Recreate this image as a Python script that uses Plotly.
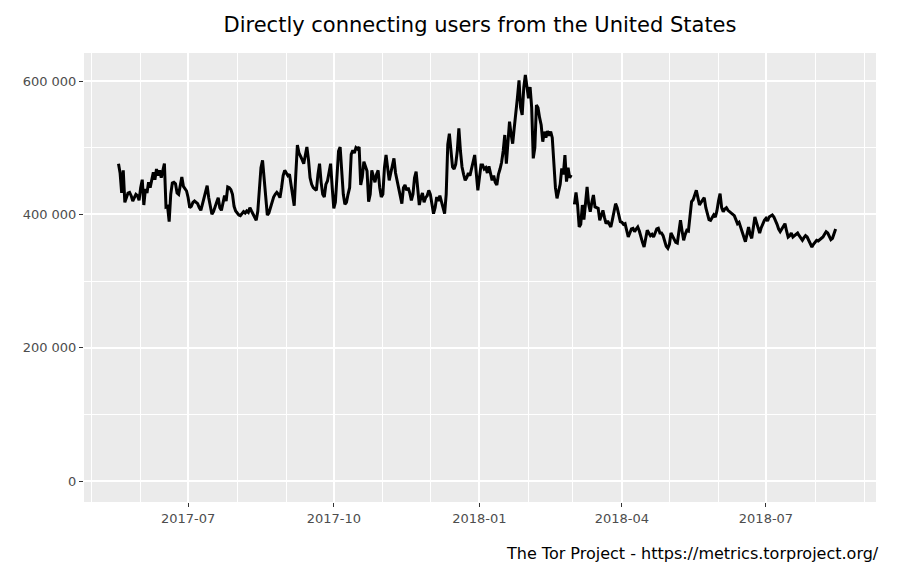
import pandas as pd
import plotly.graph_objects as go

# Daily directly connecting users (thousands).
# Each list starts at the given first date; None marks a missing day.
may_2017 = [476, 462, 432, 466, 418, 425, 432, 433, 428, 420, 425, 430, 428, 421]
jun_2017 = [440, 452, 414, 438, 432, 448, 440, 455, 463, 452, 468, 458, 466, 455, 468,
            476, 411, 412, 389, 430, 447, 448, 446, 432, 430, 445, 456, 442, 438, 435]
jul_2017 = [425, 410, 412, 418, 420, 418, 416, 410, 406, 415, 425, 432, 443, 425, 410, 400,
            404, 410, 418, 425, 410, 406, 418, 428, 420, 441, 440, 437, 430, 412, 405]
aug_2017 = [402, 399, 398, 402, 404, 402, 405, 403, 410, 405, 400, 395, 391, 405, 440, 470,
            481, 450, 420, 399, 402, 410, 416, 426, 430, 433, 430, 425, 440, 458, 466]
sep_2017 = [462, 458, 460, 445, 428, 413, 460, 504, 492, 488, 482, 476, 490, 501, 482,
            455, 445, 440, 438, 436, 460, 476, 448, 430, 426, 445, 450, 462, 476, 440]
oct_2017 = [409, 418, 460, 495, 501, 470, 430, 415, 418, 430, 440, 490, 496, 492, 500, 498,
            501, 444, 456, 479, 470, 465, 419, 430, 466, 455, 448, 460, 466, 440, 426]
nov_2017 = [430, 470, 489, 470, 451, 462, 475, 484, 462, 450, 440, 428, 416, 440, 444,
            436, 440, 432, 421, 430, 455, 464, 435, 414, 425, 432, 418, 425, 428, 436]
dec_2017 = [430, 415, 401, 410, 426, 420, 428, 419, 410, 401, 430, 505, 521, 490, 471, 468,
            475, 495, 529, 495, 471, 460, 451, 455, 462, 458, 468, 480, 489, 462, 436]
jan_2018 = [455, 474, 474, 468, 470, 462, 472, 460, 451, 458, 448, 444, 460, 468, 478, 495,
            519, 476, 510, 539, 520, 506, 530, 550, 575, 601, 560, 549, 590, 609, 590]
feb_2018 = [574, 591, 560, 484, 500, 564, 560, 545, 534, 509, 524, 515, 525, 518,
            524, 515, 470, 440, 424, 435, 445, 469, 460, 489, 449, 470, 455, 459]
mar_2018 = [None, 415, 433, 414, 381, 385, 414, 392, 420, 441, 415, 404, 418, 429, 411, 410,
            409, 391, 398, 406, 395, 386, 390, 385, 381, 392, 405, 416, 410, 398, 389]
apr_2018 = [388, 385, 386, 375, 366, 372, 378, 379, 374, 378, 381, 375, 365, 358, 351,
            362, 376, 372, 368, 370, 366, 372, 378, 379, 372, 372, 368, 360, 352, 349]
may_2018 = [355, 372, 368, 362, 358, 357, 372, 391, 375, 361, 370, 376, 375, 395, 419, 422,
            428, 436, 425, 414, 418, 421, 425, 410, 400, 392, 391, 396, 399, 396, 405]
jun_2018 = [420, 431, 410, 404, 408, 410, 406, 404, 402, 401, 398, 392, 386, 388, 380,
            372, 365, 359, 370, 381, 370, 364, 380, 396, 388, 378, 372, 380, 386, 391]
jul_2018 = [394, 390, 396, 398, 399, 396, 391, 385, 378, 374, 378, 382, 386, 375, 366, 368,
            372, 366, 368, 370, 372, 368, 364, 361, 365, 368, 366, 360, 356, 351, 355]
aug_2018 = [358, 361, 360, 362, 364, 366, 370, 374, 372, 366, 362, 364, 372, 378]

months = [
    ("2017-05-18", may_2017), ("2017-06-01", jun_2017), ("2017-07-01", jul_2017),
    ("2017-08-01", aug_2017), ("2017-09-01", sep_2017), ("2017-10-01", oct_2017),
    ("2017-11-01", nov_2017), ("2017-12-01", dec_2017), ("2018-01-01", jan_2018),
    ("2018-02-01", feb_2018), ("2018-03-01", mar_2018), ("2018-04-01", apr_2018),
    ("2018-05-01", may_2018), ("2018-06-01", jun_2018), ("2018-07-01", jul_2018),
    ("2018-08-01", aug_2018),
]

dates, users = [], []
for start, vals in months:
    d0 = pd.Timestamp(start)
    for i, v in enumerate(vals):
        dates.append(d0 + pd.Timedelta(days=i))
        users.append(None if v is None else v * 1000)

x_ticks = ["2017-07-01", "2017-10-01", "2018-01-01", "2018-04-01", "2018-07-01"]
x_labels = ["2017-07", "2017-10", "2018-01", "2018-04", "2018-07"]
y_ticks = [0, 200000, 400000, 600000]
y_labels = ["0", "200 000", "400 000", "600 000"]

fig = go.Figure()
fig.add_trace(go.Scatter(
    x=dates, y=users, mode="lines",
    line=dict(color="black", width=3),
    connectgaps=False, hoverinfo="skip", showlegend=False,
))

fig.update_layout(
    width=907, height=576, autosize=False,
    margin=dict(l=76, r=39, t=45, b=82),
    paper_bgcolor="white", plot_bgcolor="#EBEBEB",
    font=dict(family="DejaVu Sans", color="#4D4D4D", size=13),
    title=dict(text="Directly connecting users from the United States",
               x=0.5, xanchor="center", y=1 - 17 / 576, yanchor="middle",
               xref="paper", font=dict(family="DejaVu Sans", size=21, color="black")),
    annotations=[dict(
        text="The Tor Project - https://metrics.torproject.org/",
        xref="paper", yref="paper", x=1.006, y=-0.1136,
        xanchor="right", yanchor="middle", showarrow=False,
        font=dict(family="DejaVu Sans", size=16, color="black"),
    )],
)

fig.update_xaxes(
    type="date",
    range=["2017-04-26 05:00", "2018-09-08 12:00"],
    tickvals=x_ticks, ticktext=x_labels,
    showgrid=True, gridcolor="white", gridwidth=1.6,
    ticks="outside", ticklen=4, tickwidth=1, tickcolor="#333333",
    tickfont=dict(size=13, color="#4D4D4D"),
    minor=dict(dtick="M1", tick0="2017-05-01", showgrid=True, gridcolor="white",
               gridwidth=0.8, ticks=""),
    showline=False, zeroline=False, fixedrange=True,
)
fig.update_yaxes(
    range=[-31500, 642000],
    tickvals=y_ticks, ticktext=y_labels,
    showgrid=True, gridcolor="white", gridwidth=1.6,
    ticks="outside", ticklen=4, tickwidth=1, tickcolor="#333333",
    tickfont=dict(size=13, color="#4D4D4D"),
    minor=dict(dtick=100000, tick0=0, showgrid=True, gridcolor="white",
               gridwidth=0.8, ticks=""),
    showline=False, zeroline=False, fixedrange=True,
)

fig.write_html("out.html")
